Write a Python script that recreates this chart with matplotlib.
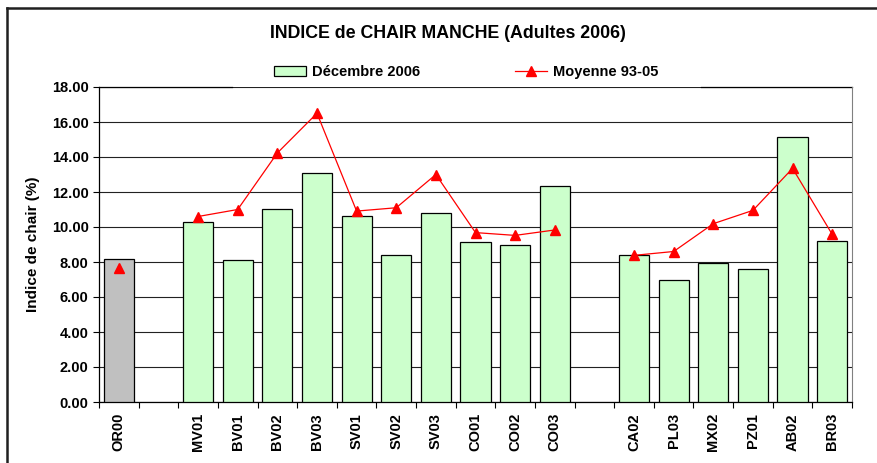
import numpy as np
import matplotlib
matplotlib.use("Agg")
import matplotlib.pyplot as plt
from matplotlib.lines import Line2D
from matplotlib.patches import Patch

plt.rcParams['font.family'] = ['Liberation Sans', 'DejaVu Sans']

categories = ["OR00", "", "MV01", "BV01", "BV02", "BV03", "SV01", "SV02", "SV03",
              "CO01", "CO02", "CO03", "", "CA02", "PL03", "MX02", "PZ01", "AB02", "BR03"]
dec_2006 = [8.2, np.nan, 10.27, 8.1, 11.03, 13.09, 10.65, 8.42, 10.8,
            9.14, 9.0, 12.34, np.nan, 8.42, 6.97, 7.94, 7.6, 15.12, 9.2]
moy_93_05 = [7.65, np.nan, 10.6, 11.0, 14.23, 16.5, 10.91, 11.1, 13.0,
             9.68, 9.52, 9.83, np.nan, 8.38, 8.6, 10.19, 10.95, 13.35, 9.58]
yticks = [0, 2, 4, 6, 8, 10, 12, 14, 16, 18]

W, H = 877, 463
fig = plt.figure(figsize=(W / 100, H / 100), dpi=100)
ax = fig.add_axes([99 / W, 1 - 402 / H, (852 - 99) / W, (402 - 87) / H])

x = np.arange(len(categories))
dv = np.array(dec_2006, dtype=float)
mask = ~np.isnan(dv)
colors = ['#C0C0C0' if c == "OR00" else '#CCFFCC' for c in categories]
ax.bar(x[mask], dv[mask], width=0.76, color=[c for c, m in zip(colors, mask) if m],
       edgecolor='black', linewidth=0.9, zorder=3)
ax.plot(x, moy_93_05, color='red', linewidth=0.9, marker='^', markersize=6.5,
        markeredgecolor='red', zorder=4)

ax.set_xlim(-0.5, len(categories) - 0.5)
ax.set_ylim(0, 18)
ax.set_yticks(yticks)
ax.set_yticklabels([f"{v:.2f}" for v in yticks], fontsize=10.5, fontweight='bold')
ax.yaxis.grid(True, color='#222222', linewidth=0.8, zorder=0)
ax.set_axisbelow(True)

ax.set_xticks(x)
ax.set_xticklabels(categories, rotation=90, fontsize=10.5, fontweight='bold')
ax.tick_params(axis='x', which='major', length=0, pad=8)
ax.set_xticks(np.arange(-0.5, len(categories), 1.0), minor=True)
ax.tick_params(axis='x', which='minor', length=4, direction='out', width=0.8)
ax.tick_params(axis='y', length=4, direction='out', width=0.8)

ax.set_ylabel("Indice de chair (%)", fontsize=11, fontweight='bold')
ax.yaxis.set_label_coords((40 - 99) / (852 - 99), 0.5)

ax.spines['top'].set_visible(False)
ax.spines['right'].set_color('#808080')
for s in ['left', 'bottom']:
    ax.spines[s].set_linewidth(0.9)

# top border broken by the legend
x1 = (232 - 99) / (852 - 99)
x2 = (701 - 99) / (852 - 99)
ax.plot([0, x1], [1, 1], transform=ax.transAxes, color='black', lw=0.9, clip_on=False)
ax.plot([x2, 1], [1, 1], transform=ax.transAxes, color='black', lw=0.9, clip_on=False)

fig.text(448 / W, 1 - 34 / H, "INDICE de CHAIR MANCHE (Adultes 2006)",
         ha='center', va='center', fontsize=12.8, fontweight='bold')

handles = [Patch(facecolor='#CCFFCC', edgecolor='black', linewidth=0.9),
           Line2D([0], [0], color='red', lw=0.9, marker='^', markersize=6.5)]
fig.legend(handles, ["Décembre 2006", "Moyenne 93-05"], ncol=2, frameon=False,
           loc='center', bbox_to_anchor=(466 / W, 1 - 72 / H),
           prop={'size': 10.5, 'weight': 'bold'}, columnspacing=6.5,
           handlelength=2.2, handletextpad=0.4)

# outer chart frame
fig.add_artist(Line2D([7 / W, 7 / W], [0, 1 - 8 / H], transform=fig.transFigure,
                      color='#202020', lw=1.8))
fig.add_artist(Line2D([7 / W, 1], [1 - 8 / H, 1 - 8 / H], transform=fig.transFigure,
                      color='#202020', lw=1.8))

fig.savefig("out.png", dpi=100)
